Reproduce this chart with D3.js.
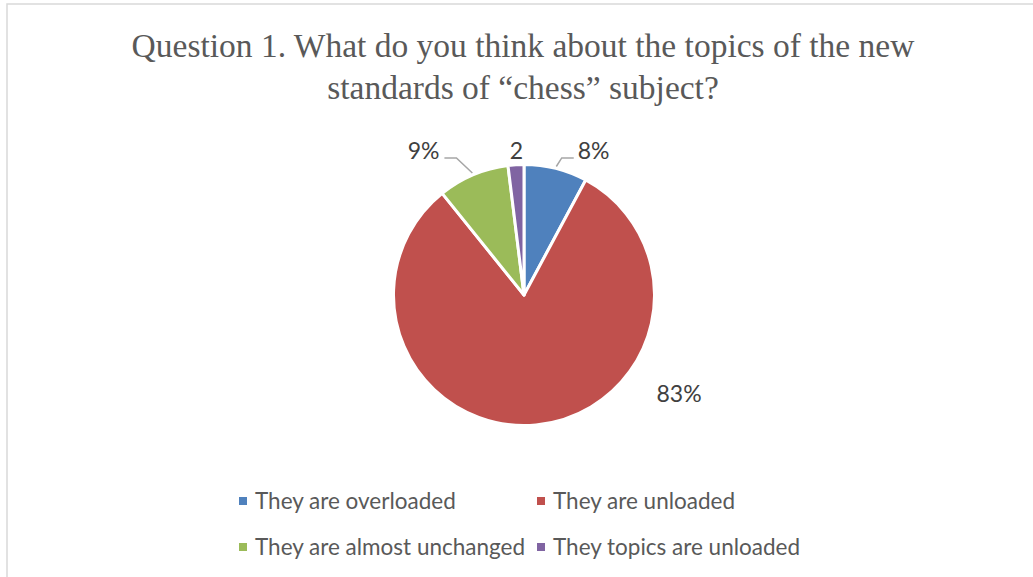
<!DOCTYPE html>
<html><head><meta charset="utf-8">
<script src="https://cdn.jsdelivr.net/npm/d3@7"></script>
<style>body{margin:0;background:#fff;overflow:hidden}</style></head>
<body>
<svg id="c" width="1033" height="577"></svg>
<script>
// ---- data ----
const categories = ["They are overloaded", "They are unloaded", "They are almost unchanged", "They topics are unloaded"];
const values = [8, 83, 9, 2];
const labels = ["8%", "83%", "9%", "2"];
const colors = ["#4f81bd", "#c0504d", "#9bbb59", "#8064a2"];
const titleLines = ["Question 1. What do you think about the topics of the new", "standards of \u201cchess\u201d subject?"];

// ---- layout ----
const W = 1033, H = 577;
const cx = 524, cy = 295, R = 130.5;
const sansFont = "Lato, 'Noto Sans', sans-serif";
const serifFont = "'Liberation Serif', 'DejaVu Serif', serif";
// label placement: angle (deg, clockwise from top), radius of text centre, leader side
const labelLayout = [
  {angle: 25.8, r: 160, leader: "right"},
  {angle: 122.4, r: 183.6, leader: null},
  {angle: 325.1, r: 175.6, leader: "left"},
  {angle: -3, r: 144.2, leader: null}
];

const svg = d3.select("#c");
svg.append("rect").attr("x", 7).attr("y", 4).attr("width", W + 20).attr("height", H + 20)
  .attr("fill", "#fff").attr("stroke", "#d9d9d9").attr("stroke-width", 1.5);

svg.append("g").selectAll("text").data(titleLines).join("text")
  .attr("x", 523).attr("y", (d, i) => 57 + i * 42)
  .attr("text-anchor", "middle")
  .attr("font-family", serifFont).attr("font-size", 33.5).attr("fill", "#595959")
  .text(d => d);

const pie = d3.pie().sort(null).value(d => d);
const arcs = pie(values);
const arc = d3.arc().innerRadius(0).outerRadius(R);
const g = svg.append("g").attr("transform", `translate(${cx},${cy})`);
g.selectAll("path").data(arcs).join("path")
  .attr("d", arc)
  .attr("fill", (d, i) => colors[i])
  .attr("stroke", "#fff").attr("stroke-width", 3).attr("stroke-linejoin", "round");

const pt = (deg, r) => [Math.sin(deg * Math.PI / 180) * r, -Math.cos(deg * Math.PI / 180) * r];

arcs.forEach((a, i) => {
  const L = labelLayout[i];
  const [tx, ty] = pt(L.angle, L.r);
  const t = g.append("text")
    .attr("x", tx).attr("y", ty).attr("dy", "0.36em")
    .attr("text-anchor", "middle")
    .attr("font-family", sansFont).attr("font-size", 23).attr("fill", "#404040")
    .text(labels[i]);
  if (L.leader) {
    const w = t.node().getComputedTextLength();
    const mid = (a.startAngle + a.endAngle) / 2 * 180 / Math.PI;
    const s = pt(mid, R + 2);
    const by = ty + 7;
    let e1, e2;
    if (L.leader === "right") { e2 = tx - w / 2 - 4; e1 = e2 - 12; }
    else { e2 = tx + w / 2 + 5; e1 = e2 + 12; }
    g.append("polyline")
      .attr("points", [[s[0], s[1]], [e1, by], [e2, by]].map(p => p.join(",")).join(" "))
      .attr("fill", "none").attr("stroke", "#a6a6a6").attr("stroke-width", 1.5);
  }
});

// legend
const legX = [239, 537], legY = [501, 547];
const lg = svg.append("g");
categories.forEach((c, i) => {
  const x = legX[i % 2], y = legY[Math.floor(i / 2)];
  lg.append("rect").attr("x", x).attr("y", y - 4).attr("width", 8).attr("height", 8).attr("fill", colors[i]);
  lg.append("text").attr("x", x + 16).attr("y", y).attr("dy", "0.36em")
    .attr("font-family", sansFont).attr("font-size", 22.5).attr("fill", "#595959")
    .text(c);
});
</script>
</body></html>
